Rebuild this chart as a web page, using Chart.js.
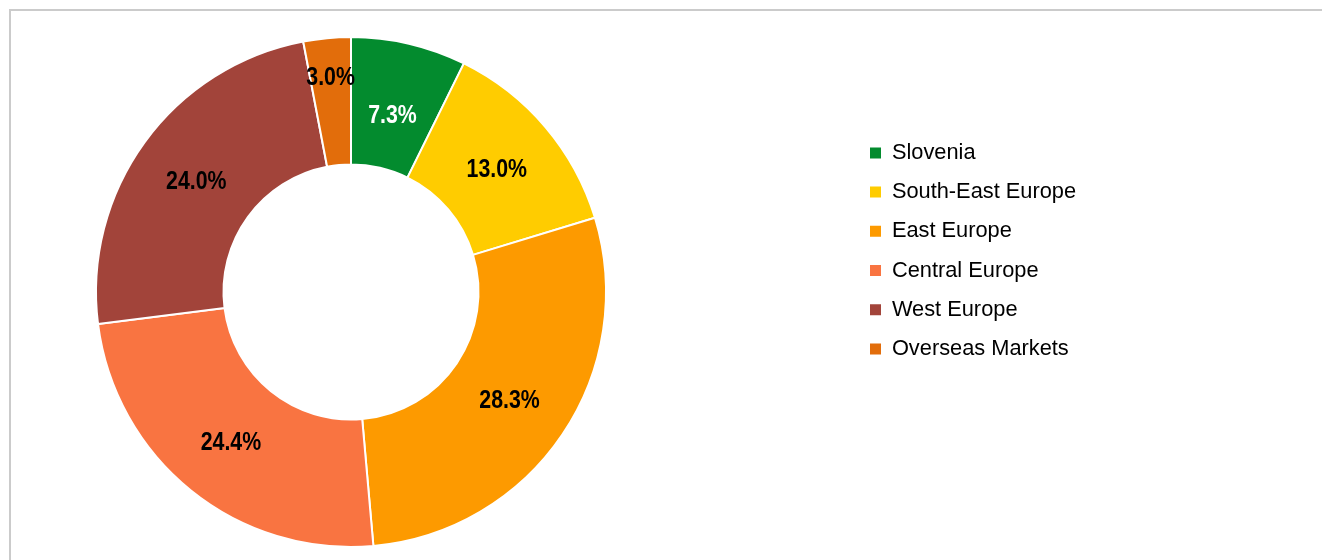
<!DOCTYPE html>
<html>
<head>
<meta charset="utf-8">
<title>Sales by market</title>
<script src="https://cdn.jsdelivr.net/npm/chart.js@4.4.1/dist/chart.umd.min.js"></script>
<style>
    html, body { margin: 0; padding: 0; background: #fff; overflow: hidden; }
    #frame {
        position: absolute; left: 9px; top: 9px; width: 1400px; height: 600px;
        border-top: 2px solid #cbcbcb; border-left: 2px solid #cbcbcb;
    }
    #wrap { position: absolute; left: 0; top: 0; width: 1322px; height: 560px; }
</style>
</head>
<body>
<div id="frame"></div>
<div id="wrap"><canvas id="marketChart"></canvas></div>
<script>
// ========================================
// SALES BY MARKET - DOUGHNUT
// ========================================

const markets = ['Slovenia', 'South-East Europe', 'East Europe', 'Central Europe', 'West Europe', 'Overseas Markets'];
const shares = [7.3, 13.0, 28.3, 24.4, 24.0, 3.0];

const sliceColors = ['#038b2e', '#ffcc00', '#fd9a00', '#f97441', '#a2443a', '#e26d0b'];
const labelColors = ['#ffffff', '#000000', '#000000', '#000000', '#000000', '#000000'];

// Legend placement (page pixels)
const LEGEND_BOX_X = 870;
const LEGEND_FIRST_Y = 142;

// Liberation Sans Narrow may not be installed; fall back to a squeezed Liberation Sans
function fontInstalled(name) {
    const c = document.createElement('canvas').getContext('2d');
    c.font = 'bold 40px monospace';
    const a = c.measureText('24.0% Wmi').width;
    c.font = 'bold 40px "' + name + '", monospace';
    const b = c.measureText('24.0% Wmi').width;
    return a !== b;
}
const hasNarrow = fontInstalled('Liberation Sans Narrow');

// Etiquetas nas fatias
const sliceLabels = {
    id: 'sliceLabels',
    afterDatasetsDraw(chart) {
        const ctx = chart.ctx;
        const meta = chart.getDatasetMeta(0);
        meta.data.forEach((arc, i) => {
            const p = arc.getProps(['x', 'y', 'startAngle', 'endAngle', 'innerRadius', 'outerRadius'], true);
            const mid = (p.startAngle + p.endAngle) / 2;
            const span = p.endAngle - p.startAngle;
            let r = (p.innerRadius + p.outerRadius) / 2;
            if (span < 0.3) {
                // too thin: push the label out towards the rim
                r = p.outerRadius * 0.85;
            } else if (span < 0.5) {
                // tight slice: pull the label slightly inwards
                r = r * 0.955;
            }
            const x = p.x + Math.cos(mid) * r;
            const y = p.y + Math.sin(mid) * r;
            ctx.save();
            ctx.translate(x, y);
            if (hasNarrow) {
                ctx.font = 'bold 26px "Liberation Sans Narrow", "Arial Narrow", sans-serif';
            } else {
                ctx.font = 'bold 26px "Liberation Sans", Arial, sans-serif';
                ctx.scale(0.82, 1);
            }
            ctx.fillStyle = labelColors[i];
            ctx.textAlign = 'center';
            ctx.textBaseline = 'middle';
            ctx.fillText(shares[i].toFixed(1) + '%', 0, 2);
            ctx.restore();
        });
    }
};

// Move the legend to the right column
const legendPlace = {
    id: 'legendPlace',
    afterInit(chart) {
        const lg = chart.legend;
        const fit = lg.fit;
        lg.fit = function () {
            fit.call(this);
            this.width = 620;
        };
    },
    afterLayout(chart) {
        const lg = chart.legend;
        const pad = lg.options.labels.padding;
        const w = lg.right - lg.left;
        lg.left = LEGEND_BOX_X - pad;
        lg.right = lg.left + w;
        lg.top = LEGEND_FIRST_Y - pad;
    }
};

const ctx = document.getElementById('marketChart').getContext('2d');

const marketChart = new Chart(ctx, {
    type: 'doughnut',
    data: {
        labels: markets,
        datasets: [{
            data: shares,
            backgroundColor: sliceColors,
            borderColor: '#ffffff',
            borderWidth: 2
        }]
    },
    options: {
        responsive: true,
        maintainAspectRatio: false,
        animation: false,
        cutout: '50%',
        layout: {
            padding: { left: 0, right: 0, top: 36, bottom: 12 }
        },
        plugins: {
            tooltip: { enabled: false },
            legend: {
                position: 'right',
                align: 'start',
                labels: {
                    color: '#000000',
                    boxWidth: 11,
                    boxHeight: 11,
                    padding: 17.4,
                    font: {
                        family: '"Liberation Sans", Arial, sans-serif',
                        size: 21.8
                    },
                    generateLabels: function(chart) {
                        const base = Chart.overrides.doughnut.plugins.legend.labels.generateLabels(chart);
                        return base.map(l => Object.assign(l, { lineWidth: 0, strokeStyle: l.fillStyle }));
                    }
                }
            }
        }
    },
    plugins: [sliceLabels, legendPlace]
});
</script>
</body>
</html>
